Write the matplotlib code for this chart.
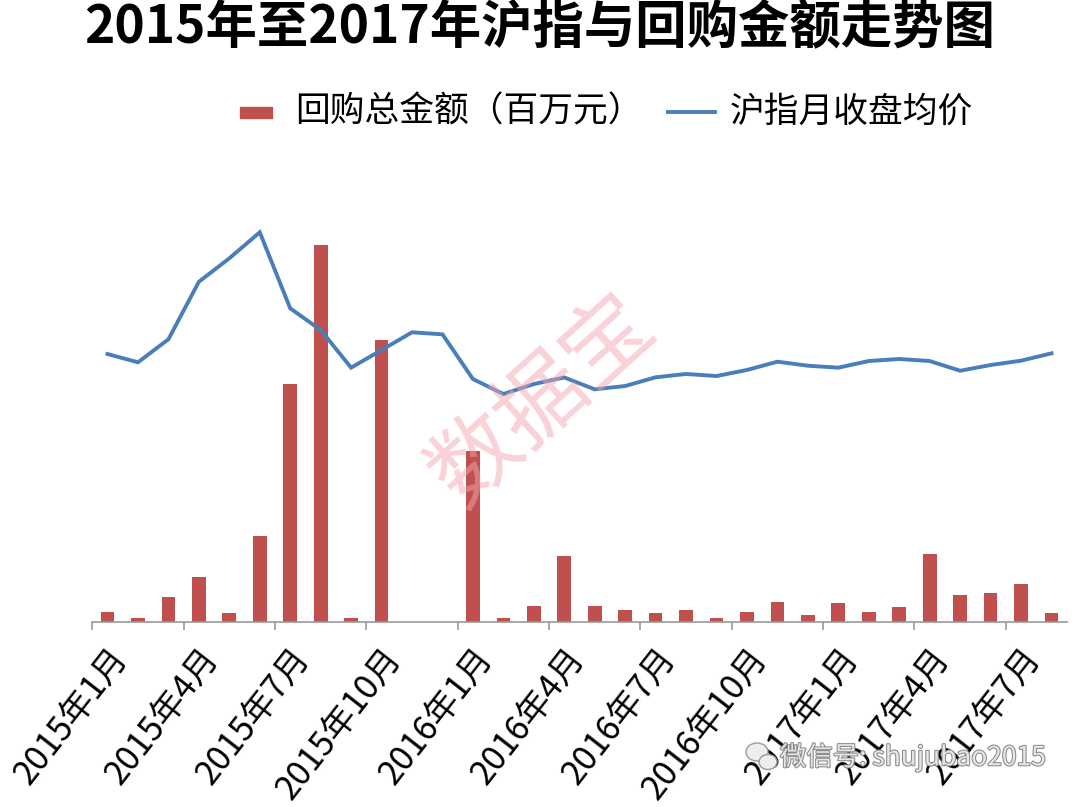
import numpy as np
import matplotlib

matplotlib.use('Agg')
import matplotlib.pyplot as plt
import matplotlib.transforms as mtransforms
import matplotlib.patheffects as pe
from matplotlib.patches import Rectangle, Ellipse
from matplotlib.lines import Line2D

plt.rcParams['font.family'] = ['Noto Sans CJK SC', 'DejaVu Sans']

# 2015年1月 .. 2017年8月
months = [f'{y}年{m}月' for y in (2015, 2016, 2017) for m in range(1, 13)][:32]

# 回购总金额（百万元）
buyback = [400, 160, 1000, 1800, 340, 3430, 9520, 15070, 160, 11260, 0, 0,
           6840, 140, 630, 2630, 630, 470, 330, 470, 130, 400, 800, 270,
           730, 400, 600, 2690, 1070, 1160, 1490, 330]

# 沪指月收盘均价
sh_index = [3269, 3172, 3442, 4117, 4392, 4697, 3805, 3551, 3109, 3316, 3524, 3500,
            2976, 2800, 2917, 2994, 2855, 2894, 2996, 3035, 3011, 3082, 3179, 3132,
            3109, 3187, 3211, 3187, 3073, 3140, 3191, 3277]

RED = '#c0504d'
BLUE = '#4a7ebb'
W, H = 1080, 807

fig = plt.figure(figsize=(W / 100, H / 100), dpi=100)
ax = fig.add_axes([92.3 / W, 1 - 621.7 / H, 974.4 / W, 421.7 / H])
x = np.arange(len(months))

ax.bar(x, buyback, width=0.45, color=RED, zorder=2)
ax.set_xlim(-0.5, len(months) - 0.5)
ax.set_ylim(0, 16870)

ax2 = ax.twinx()
ax2.plot(x, sh_index, color=BLUE, lw=2.8, solid_joinstyle='miter', zorder=3)
ax2.set_ylim(129, 5076)

for a in (ax, ax2):
    for s in ('top', 'right', 'left'):
        a.spines[s].set_visible(False)
    a.set_yticks([])
ax2.spines['bottom'].set_visible(False)
ax.spines['bottom'].set_color('#999999')
ax.spines['bottom'].set_linewidth(1.2)

ax.set_xticks(np.arange(-0.5, len(months) - 1, 3))
ax.set_xticklabels([])
ax.tick_params(axis='x', length=6, width=1.2, color='#999999', direction='out')

lab_tr = mtransforms.offset_copy(ax.get_xaxis_transform(), fig=fig, x=14, y=-31, units='dots')
for i in range(0, len(months), 3):
    ax.text(i, 0, months[i], transform=lab_tr, rotation=52, rotation_mode='anchor',
            ha='right', va='center', fontsize=24.5, color='black')

fig.text(540 / W, 1 - 27 / H, '2015年至2017年沪指与回购金额走势图', ha='center', va='center',
         fontsize=37, fontweight='bold', color='black')

# legend
fig.add_artist(Rectangle((240 / W, 1 - 118 / H), 32 / W, 11 / H, transform=fig.transFigure,
                         color=RED))
fig.text(295 / W, 1 - 112 / H, '回购总金额（百万元）', ha='left', va='center', fontsize=25)
fig.add_artist(Line2D([668 / W, 715 / W], [1 - 112 / H, 1 - 112 / H], transform=fig.transFigure,
                      color=BLUE, lw=2.8))
fig.text(730 / W, 1 - 112 / H, '沪指月收盘均价', ha='left', va='center', fontsize=25)

# watermarks
fig.text(543 / W, 1 - 400 / H, '数据宝', ha='center', va='center', rotation=42,
         fontsize=64, color='#f4a6b0', alpha=0.5, zorder=5)
for cx, cy, ew, eh in ((757, 752, 22, 18), (768, 762, 18, 15)):
    fig.add_artist(Ellipse((cx / W, 1 - cy / H), ew / W, eh / H, transform=fig.transFigure,
                           facecolor='#eeeeee', edgecolor='#999999', lw=1.0, zorder=5))
fig.text(780 / W, 1 - 757 / H, '微信号: shujubao2015', ha='left', va='center', fontsize=19,
         color='#e6e6e6', zorder=5,
         path_effects=[pe.withStroke(linewidth=1.5, foreground='#8a8a8a')])

fig.savefig('out.png', dpi=100)
